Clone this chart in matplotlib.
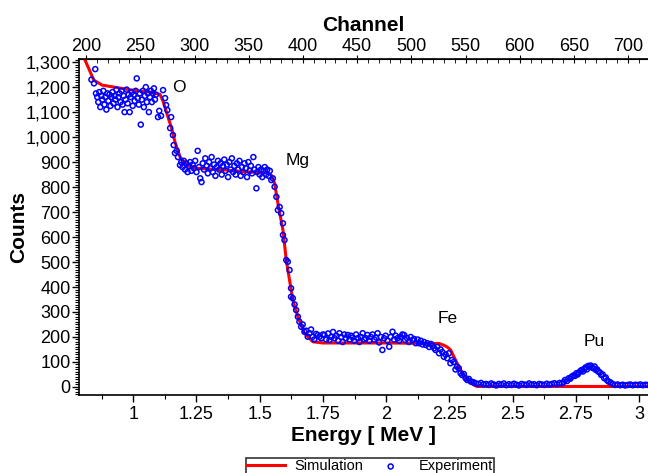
import matplotlib.pyplot as plt
import matplotlib.ticker as ticker

plt.rcParams['font.family'] = ['Liberation Sans', 'DejaVu Sans']

# simulation curve (energy in MeV, counts)
sim_e = [0.786, 0.804, 0.824, 0.844, 0.877, 0.942, 0.995, 1.06, 1.106, 1.119, 1.139,
         1.152, 1.165, 1.185, 1.211, 1.251, 1.369, 1.448, 1.526, 1.546, 1.559, 1.572,
         1.592, 1.605, 1.618, 1.631, 1.651, 1.677, 1.71, 1.749, 2.0, 2.209, 2.228,
         2.241, 2.255, 2.274, 2.294, 2.32, 2.346, 2.359, 2.6, 2.891, 3.04]
sim_c = [1360, 1321, 1275, 1228, 1208, 1197, 1188, 1181, 1171, 1141, 1075,
         1035, 981, 921, 888, 875, 868, 861, 857, 848, 815, 735,
         628, 508, 428, 348, 281, 215, 181, 176, 176, 174, 167,
         160, 148, 108, 68, 28, 8, 2, 2, 2, 2]

# experimental points
exp_e = [0.835, 0.845, 0.850, 0.853, 0.858, 0.862, 0.866, 0.870, 0.874, 0.878,
         0.882, 0.886, 0.890, 0.894, 0.898, 0.902, 0.906, 0.910, 0.914, 0.918,
         0.922, 0.926, 0.930, 0.934, 0.938, 0.942, 0.946, 0.950, 0.954, 0.958,
         0.962, 0.966, 0.970, 0.974, 0.978, 0.982, 0.986, 0.990, 0.994, 0.998,
         1.002, 1.006, 1.010, 1.014, 1.018, 1.022, 1.026, 1.030, 1.034, 1.038,
         1.042, 1.046, 1.050, 1.054, 1.058, 1.062, 1.066, 1.070, 1.074, 1.078,
         1.082, 1.086, 1.090, 1.098, 1.103, 1.110, 1.118, 1.126, 1.130, 1.135,
         1.146, 1.150, 1.157, 1.160, 1.165, 1.172, 1.177, 1.185, 1.190,
         1.195, 1.200, 1.205, 1.210, 1.215, 1.220, 1.225, 1.230, 1.235, 1.240,
         1.245, 1.250, 1.255, 1.260, 1.265, 1.270, 1.275, 1.280, 1.285, 1.290,
         1.295, 1.300, 1.305, 1.310, 1.315, 1.320, 1.325, 1.330, 1.335, 1.340,
         1.345, 1.350, 1.355, 1.360, 1.365, 1.370, 1.375, 1.380, 1.385, 1.390,
         1.395, 1.400, 1.405, 1.410, 1.415, 1.420, 1.425, 1.430, 1.435, 1.440,
         1.445, 1.450, 1.455, 1.460, 1.465, 1.470, 1.475, 1.480, 1.487, 1.490,
         1.495, 1.500, 1.505, 1.510, 1.515, 1.520, 1.525, 1.530, 1.535, 1.540,
         1.546, 1.552, 1.559, 1.566, 1.572, 1.579, 1.585, 1.592, 1.592, 1.598,
         1.605, 1.611, 1.618, 1.624, 1.624, 1.631, 1.638, 1.644, 1.651, 1.657,
         1.664, 1.670, 1.677, 1.684, 1.690, 1.697, 1.703, 1.710, 1.716, 1.723,
         1.730, 1.736, 1.743, 1.750, 1.756, 1.763, 1.770, 1.776, 1.783, 1.790,
         1.796, 1.803, 1.810, 1.815, 1.822, 1.828, 1.835, 1.841, 1.848, 1.855,
         1.861, 1.868, 1.874, 1.881, 1.888, 1.894, 1.900, 1.907, 1.913, 1.920,
         1.926, 1.933, 1.940, 1.946, 1.953, 1.960, 1.966, 1.972, 1.979, 1.985,
         1.992, 1.998, 2.005, 2.012, 2.018, 2.025, 2.031, 2.038, 2.045, 2.051,
         2.058, 2.064, 2.071, 2.075, 2.082, 2.090, 2.097, 2.104, 2.110, 2.117,
         2.124, 2.130, 2.137, 2.144, 2.150, 2.157, 2.163, 2.170, 2.177, 2.183,
         2.190, 2.195, 2.202, 2.209, 2.215, 2.222, 2.228, 2.235, 2.241, 2.248,
         2.254, 2.260, 2.267, 2.274, 2.280, 2.287, 2.294, 2.300, 2.307, 2.314,
         2.320, 2.327, 2.334, 2.340, 2.347, 2.355, 2.365, 2.375, 2.385, 2.395,
         2.405, 2.415, 2.425, 2.435, 2.445, 2.455, 2.465, 2.475, 2.485, 2.495,
         2.505, 2.515, 2.525, 2.535, 2.545, 2.555, 2.565, 2.575, 2.585, 2.595,
         2.605, 2.615, 2.625, 2.635, 2.645, 2.655, 2.665, 2.675, 2.685, 2.695,
         2.702, 2.707, 2.715, 2.722, 2.728, 2.733, 2.740, 2.746, 2.752, 2.757,
         2.762, 2.768, 2.773, 2.778, 2.783, 2.788, 2.793, 2.798, 2.803, 2.808,
         2.813, 2.819, 2.824, 2.829, 2.834, 2.839, 2.845, 2.850, 2.856, 2.862,
         2.868, 2.874, 2.880, 2.887, 2.895, 2.905, 2.915, 2.925, 2.935, 2.945,
         2.955, 2.965, 2.975, 2.985, 2.995, 3.005, 3.015, 3.025, 3.035]
exp_c = [1230, 1215, 1272, 1175, 1160, 1140, 1180, 1120, 1165, 1150,
         1185, 1130, 1160, 1110, 1175, 1145, 1170, 1125, 1160, 1180,
         1135, 1165, 1150, 1190, 1120, 1160, 1175, 1140, 1185, 1130,
         1165, 1100, 1150, 1190, 1135, 1170, 1100, 1160, 1180, 1125,
         1170, 1145, 1185, 1235, 1155, 1130, 1175, 1050, 1150, 1185,
         1120, 1165, 1200, 1140, 1175, 1100, 1160, 1185, 1140, 1175,
         1195, 1150, 1170, 1080, 1105, 1085, 1188, 1156, 1128, 1108,
         1036, 1080, 1008, 968, 936, 945, 920, 888, 900,
         880, 905, 870, 895, 860, 885, 900, 865, 890, 875,
         905, 860, 945, 880, 835, 820, 895, 870, 915, 885,
         855, 900, 875, 920, 860, 890, 845, 880, 905, 870,
         895, 850, 885, 910, 865, 890, 840, 900, 870, 915,
         860, 885, 850, 895, 870, 905, 845, 880, 860, 895,
         875, 840, 900, 865, 885, 855, 920, 870, 795, 860,
         880, 850, 870, 840, 865, 880, 850, 870, 845, 865,
         828, 835, 801, 761, 708, 720, 695, 655, 608, 588,
         508, 501, 468, 395, 361, 355, 330, 308, 281, 261,
         241, 250, 221, 225, 201, 215, 230, 201, 190, 212,
         208, 201, 195, 210, 208, 190, 214, 188, 200, 220,
         195, 205, 185, 215, 200, 180, 210, 195, 208, 190,
         205, 198, 185, 210, 195, 180, 200, 215, 190, 195,
         208, 185, 200, 210, 190, 198, 215, 178, 200, 148,
         195, 205, 185, 161, 200, 221, 190, 205, 195, 185,
         200, 210, 208, 188, 196, 180, 200, 188, 192, 175,
         190, 175, 185, 170, 180, 168, 175, 160, 172, 165,
         155, 148, 160, 135, 150, 140, 121, 130, 115, 135,
         95, 108, 100, 70, 81, 75, 55, 48, 52, 35,
         28, 32, 22, 20, 18, 14, 12, 16, 10, 12,
         8, 14, 10, 6, 12, 9, 14, 7, 11, 8,
         13, 9, 6, 12, 10, 8, 14, 9, 11, 7,
         12, 10, 8, 13, 9, 12, 15, 11, 16, 14,
         20, 28, 24, 35, 33, 41, 46, 44, 55, 50,
         58, 64, 68, 62, 72, 78, 70, 84, 81, 86,
         78, 75, 82, 68, 70, 61, 58, 48, 50, 35,
         38, 26, 21, 18, 12, 8, 10, 7, 9, 6,
         8, 10, 7, 9, 8, 10, 7, 9, 8]

channel_ticks = [200, 250, 300, 350, 400, 450, 500, 550, 600, 650, 700]

labels = ['O', 'Mg', 'Fe', 'Pu']
label_e = [1.152, 1.602, 2.205, 2.78]
label_c = [1200, 908, 272, 180]


def e2ch(e):
    return 243.44 + 233.36 * (e - 1)


def ch2e(ch):
    return 1 + (ch - 243.44) / 233.36


fig = plt.figure(figsize=(6.48, 4.73), dpi=100)
ax = fig.add_axes([0.122, 0.165, 0.878, 0.71])

ax.plot(sim_e, sim_c, color='red', lw=2.2, label='Simulation', zorder=2)
ax.scatter(exp_e, exp_c, s=13, facecolors='none', edgecolors='blue',
           linewidths=1.1, label='Experiment', zorder=3)

for t, x, y in zip(labels, label_e, label_c):
    ax.text(x, y, t, fontsize=12.5, ha='left', va='center')

ax.set_xlim(0.786, 3.035)
ax.set_ylim(-32, 1312)

ax.xaxis.set_major_locator(ticker.MultipleLocator(0.25))
ax.xaxis.set_minor_locator(ticker.MultipleLocator(0.125))
ax.xaxis.set_major_formatter(ticker.FuncFormatter(lambda v, p: f'{v:g}'))
ax.yaxis.set_major_locator(ticker.MultipleLocator(100))
ax.yaxis.set_minor_locator(ticker.MultipleLocator(10))
ax.yaxis.set_major_formatter(ticker.FuncFormatter(lambda v, p: f'{int(v):,}'))

ax.tick_params(axis='both', which='major', labelsize=13, direction='out', length=5, width=1)
ax.tick_params(axis='both', which='minor', direction='out', length=3, width=0.8)
ax.tick_params(axis='y', which='major', pad=1)
ax.tick_params(axis='x', which='major', pad=3)
ax.spines['right'].set_visible(False)
for s in ['left', 'bottom', 'top']:
    ax.spines[s].set_linewidth(1.2)

ax.set_xlabel('Energy [ MeV ]', fontsize=15, fontweight='bold', labelpad=2)
ax.set_ylabel('Counts', fontsize=15, fontweight='bold')
ax.yaxis.set_label_coords(-0.09, 0.5)

top = ax.secondary_xaxis('top', functions=(e2ch, ch2e))
top.xaxis.set_major_locator(ticker.FixedLocator(channel_ticks))
top.xaxis.set_minor_locator(ticker.MultipleLocator(10))
top.tick_params(which='major', labelsize=13, direction='inout', length=6, pad=0)
top.tick_params(which='minor', direction='in', length=3)
top.set_xlabel('Channel', fontsize=15, fontweight='bold', labelpad=5)

leg = fig.legend(loc='upper center', bbox_to_anchor=(0.571, 0.032), ncol=2,
                 fontsize=10.5, frameon=True, fancybox=False, edgecolor='black',
                 borderpad=0.1, borderaxespad=0, handlelength=2.6,
                 handletextpad=0.6, columnspacing=0.6)
leg.get_frame().set_linewidth(1.2)

fig.savefig('out.png', dpi=100)
